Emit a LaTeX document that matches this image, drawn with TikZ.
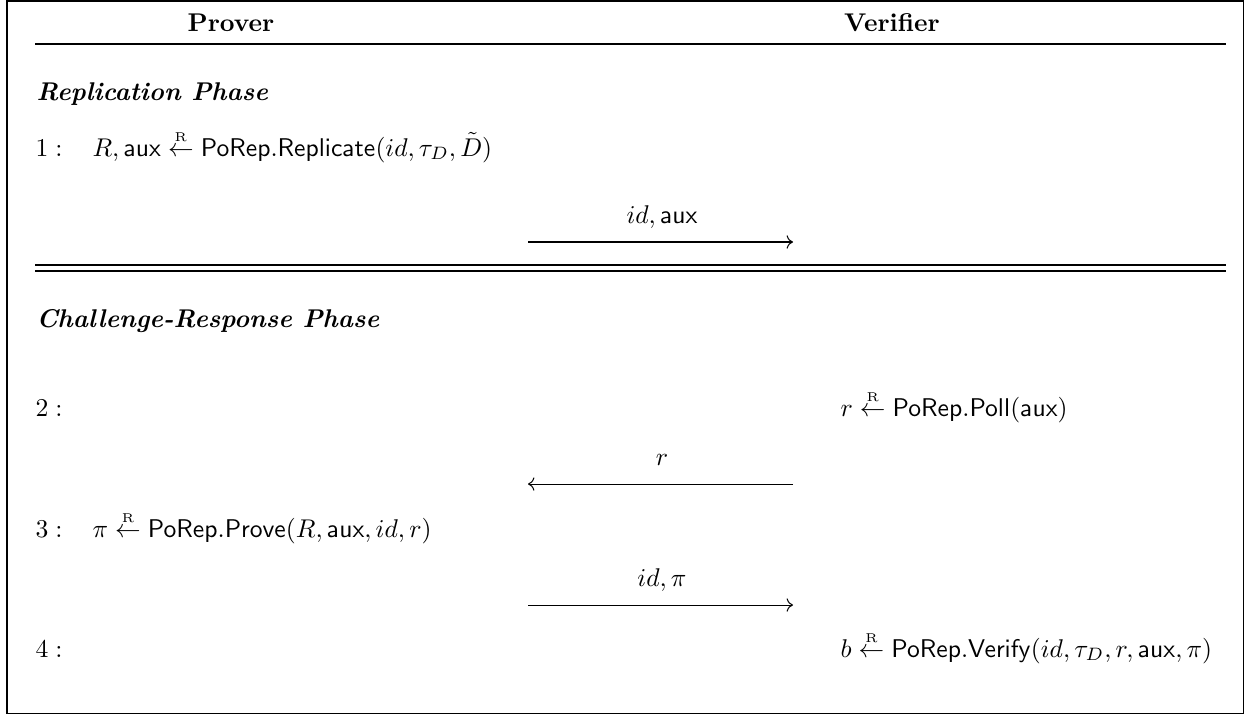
\documentclass[tikz,border=0pt]{standalone}
\usepackage{amsmath}
\usepackage{tikz}
\usetikzlibrary{arrows.meta}

\newcommand{\algo}[1]{\mathsf{#1}}
\newcommand{\rsample}{\stackrel{\scriptscriptstyle\mathrm{R}}{\leftarrow}}

\begin{document}
\begin{tikzpicture}[
    x=0.39pt, y=-0.39pt,
    colhead/.style={font=\bfseries, anchor=base, inner sep=0pt},
    phase/.style={font=\bfseries\itshape, anchor=base west, inner sep=0pt},
    lnum/.style={anchor=base west, inner sep=0pt},
    stmt/.style={anchor=base west, inner sep=0pt},
    msg/.style={anchor=base, inner sep=0pt},
    send/.style={-{To}, line width=0.4pt},
    rule/.style={line width=0.4pt}
]

\useasboundingbox (0,0) rectangle (1247,715);
\draw[rule] (7,1) rectangle (1243,713);

% column heads
\node[colhead] (prover) at (231,31) {Prover};
\node[colhead] (verifier) at (892,31) {Verifier};
\coordinate (hl) at (35,44);
\coordinate (hr) at (1226,44);
\draw[rule] (hl) -- (hr);

% replication phase
\node[phase] (rep) at (36,100) {Replication Phase};
\node[lnum] (n1) at (35,156) {$1:$};
\node[stmt] (s1) at (92,156) {$R, \algo{aux} \rsample \algo{PoRep.Replicate}(id, \tau_D, \tilde{D})$};
\node[msg] (m1) at (662,223) {$id, \algo{aux}$};
\coordinate (m1l) at (528,242);
\coordinate (m1r) at (793,242);
\draw[send] (m1l) -- (m1r);

% phase separator
\coordinate (d1l) at (35,265);
\coordinate (d1r) at (1226,265);
\coordinate (d2l) at (35,271);
\coordinate (d2r) at (1226,271);
\draw[rule] (d1l) -- (d1r);
\draw[rule] (d2l) -- (d2r);

% challenge-response phase
\node[phase] (chal) at (36,327) {Challenge-Response Phase};
\node[lnum] (n2) at (35,416) {$2:$};
\node[stmt] (s2) at (840,416) {$r \rsample \algo{PoRep.Poll}(\algo{aux})$};
\node[msg] (m2) at (662,465) {$r$};
\coordinate (m2l) at (528,484);
\coordinate (m2r) at (793,484);
\draw[send] (m2r) -- (m2l);
\node[lnum] (n3) at (35,537) {$3:$};
\node[stmt] (s3) at (92,537) {$\pi \rsample \algo{PoRep.Prove}(R, \algo{aux}, id, r)$};
\node[msg] (m3) at (662,586) {$id, \pi$};
\coordinate (m3l) at (528,605);
\coordinate (m3r) at (793,605);
\draw[send] (m3l) -- (m3r);
\node[lnum] (n4) at (35,657) {$4:$};
\node[stmt] (s4) at (840,657) {$b \rsample \algo{PoRep.Verify}(id, \tau_D, r, \algo{aux}, \pi)$};

\end{tikzpicture}
\end{document}
